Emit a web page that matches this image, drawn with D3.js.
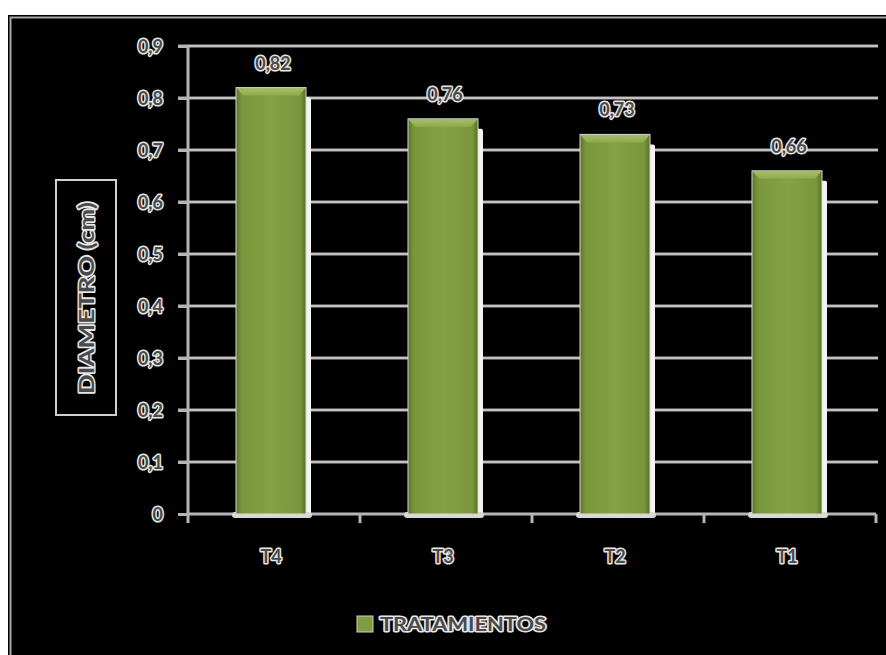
<!DOCTYPE html>
<html>
<head>
<meta charset="utf-8">
<script src="https://cdnjs.cloudflare.com/ajax/libs/d3/7.8.5/d3.min.js"></script>
<style>
  html, body { margin: 0; padding: 0; background: #ffffff; }
  svg { display: block; }
  .lbl { font-family: Lato, "Open Sans", sans-serif; font-weight: bold; fill: #4a4a4a; stroke: #e6e6e6; stroke-width: 3px; stroke-linejoin: round; paint-order: stroke; }
</style>
</head>
<body>
<script>
// Diámetro medio por tratamiento
const categories = ["T4", "T3", "T2", "T1"];
const diametro = [0.82, 0.76, 0.73, 0.66];
const valueLabels = ["0,82", "0,76", "0,73", "0,66"];
const yTicks = [0, 0.1, 0.2, 0.3, 0.4, 0.5, 0.6, 0.7, 0.8, 0.9];
const yTickLabels = ["0", "0,1", "0,2", "0,3", "0,4", "0,5", "0,6", "0,7", "0,8", "0,9"];
const seriesName = "TRATAMIENTOS";
const yTitle = "DIAMETRO (cm)";

const W = 886, H = 655;
const svg = d3.select("body").append("svg").attr("width", W).attr("height", H);

// chart frame
svg.append("rect").attr("x", 8).attr("y", 15).attr("width", W - 8).attr("height", H - 15).attr("fill", "#000");
svg.append("rect").attr("x", 10.5).attr("y", 17.5).attr("width", W + 10).attr("height", H + 10)
  .attr("fill", "none").attr("stroke", "#a8a8a8").attr("stroke-width", 2);

const plot = { left: 188, right: 876, top: 46, bottom: 514 };
const x = d3.scaleBand().domain(categories).range([plot.left, plot.right]).paddingInner(0).paddingOuter(0);
const y = d3.scaleLinear().domain([0, 0.9]).range([plot.bottom, plot.top]);

const defs = svg.append("defs");
const g1 = defs.append("linearGradient").attr("id", "barGrad").attr("x1", 0).attr("x2", 1).attr("y1", 0).attr("y2", 0);
[[0, "#5a7526"], [0.08, "#7a963c"], [0.5, "#84a144"], [0.92, "#7a963c"], [1, "#56701f"]]
  .forEach(([o, c]) => g1.append("stop").attr("offset", o).attr("stop-color", c));
const g2 = defs.append("linearGradient").attr("id", "topGrad").attr("x1", 0).attr("x2", 0).attr("y1", 0).attr("y2", 1);
[[0, "#a6bf62"], [1, "#8eaa4c"]].forEach(([o, c]) => g2.append("stop").attr("offset", o).attr("stop-color", c));

// gridlines
const grid = svg.append("g");
grid.selectAll("line").data(yTicks.slice(1)).join("line")
  .attr("x1", plot.left - 10).attr("x2", 878)
  .attr("y1", d => y(d)).attr("y2", d => y(d))
  .attr("stroke", "#a9a9a9").attr("stroke-width", 3);
grid.selectAll("line.hl").data(yTicks.slice(1)).join("line").attr("class", "hl")
  .attr("x1", plot.left - 10).attr("x2", 878)
  .attr("y1", d => y(d)).attr("y2", d => y(d))
  .attr("stroke", "#dcdcdc").attr("stroke-width", 1);

// axes
const yAxis = d3.axisLeft(y).tickValues(yTicks).tickFormat((d, i) => yTickLabels[i]).tickSize(10).tickPadding(15);
const ya = svg.append("g").attr("transform", `translate(${plot.left},0)`).call(yAxis);
ya.select(".domain").remove();
ya.selectAll(".tick line").attr("stroke", "#b5b5b5").attr("stroke-width", 3);
ya.selectAll(".tick text").attr("class", "lbl").style("font-size", "18px").attr("dy", "0.35em");
svg.append("line").attr("x1", plot.left).attr("x2", plot.left).attr("y1", plot.top).attr("y2", plot.bottom + 9)
  .attr("stroke", "#b5b5b5").attr("stroke-width", 3);

const bands = d3.range(categories.length + 1).map(i => plot.left + i * x.step());
svg.append("line").attr("x1", plot.left).attr("x2", plot.right).attr("y1", plot.bottom).attr("y2", plot.bottom)
  .attr("stroke", "#b5b5b5").attr("stroke-width", 3);
svg.append("g").selectAll("line").data(bands.slice(1)).join("line")
  .attr("x1", d => d).attr("x2", d => d).attr("y1", plot.bottom).attr("y2", plot.bottom + 9)
  .attr("stroke", "#b5b5b5").attr("stroke-width", 3);

// bars
const bw = 70, shift = -3;
const bars = svg.append("g").selectAll("g").data(categories).join("g")
  .attr("transform", d => `translate(${x(d) + x.bandwidth() / 2 - bw / 2 + shift},0)`);
// soft white shadow right and below
bars.append("rect").attr("x", bw - 2).attr("y", (d, i) => y(diametro[i]) + 10).attr("width", 7)
  .attr("height", (d, i) => plot.bottom - y(diametro[i]) - 8).attr("fill", "#f4f4f4").attr("rx", 2);
bars.append("rect").attr("x", -4).attr("y", plot.bottom - 2).attr("width", bw + 10).attr("height", 6)
  .attr("fill", "#d8d8d8").attr("rx", 3);
bars.append("rect").attr("x", 0).attr("y", (d, i) => y(diametro[i]))
  .attr("width", bw).attr("height", (d, i) => plot.bottom - y(diametro[i]))
  .attr("fill", "url(#barGrad)").attr("stroke", "#d8d8d8").attr("stroke-width", 1);
bars.append("path").attr("d", (d, i) => {
  const t = y(diametro[i]);
  return `M0.5,${t + 0.5}L${bw - 0.5},${t + 0.5}L${bw - 7},${t + 8}L7,${t + 8}Z`;
}).attr("fill", "url(#topGrad)");

// value labels
bars.append("text").attr("class", "lbl").attr("x", bw / 2 + 2).attr("y", (d, i) => y(diametro[i]) - 18)
  .attr("text-anchor", "middle").style("font-size", "18px").text((d, i) => valueLabels[i]);

// category labels
svg.append("g").selectAll("text").data(categories).join("text").attr("class", "lbl")
  .attr("x", d => x(d) + x.bandwidth() / 2 + shift).attr("y", 563)
  .attr("text-anchor", "middle").style("font-size", "18px").text(d => d);

// y-axis title
svg.append("rect").attr("x", 56).attr("y", 180).attr("width", 60).attr("height", 235)
  .attr("fill", "none").attr("stroke", "#d0d0d0").attr("stroke-width", 2);
svg.append("text").attr("class", "lbl").attr("transform", "translate(94,298) rotate(-90)")
  .attr("text-anchor", "middle").style("font-size", "21px")
  .attr("textLength", 192).attr("lengthAdjust", "spacingAndGlyphs").text(yTitle);

// legend
svg.append("rect").attr("x", 357).attr("y", 616).attr("width", 16).attr("height", 16)
  .attr("fill", "#7f9c41").attr("stroke", "#d0d0d0").attr("stroke-width", 1);
svg.append("text").attr("class", "lbl").attr("x", 380).attr("y", 631)
  .style("font-size", "18px").attr("textLength", 166).attr("lengthAdjust", "spacingAndGlyphs").text(seriesName);
</script>
</body>
</html>
